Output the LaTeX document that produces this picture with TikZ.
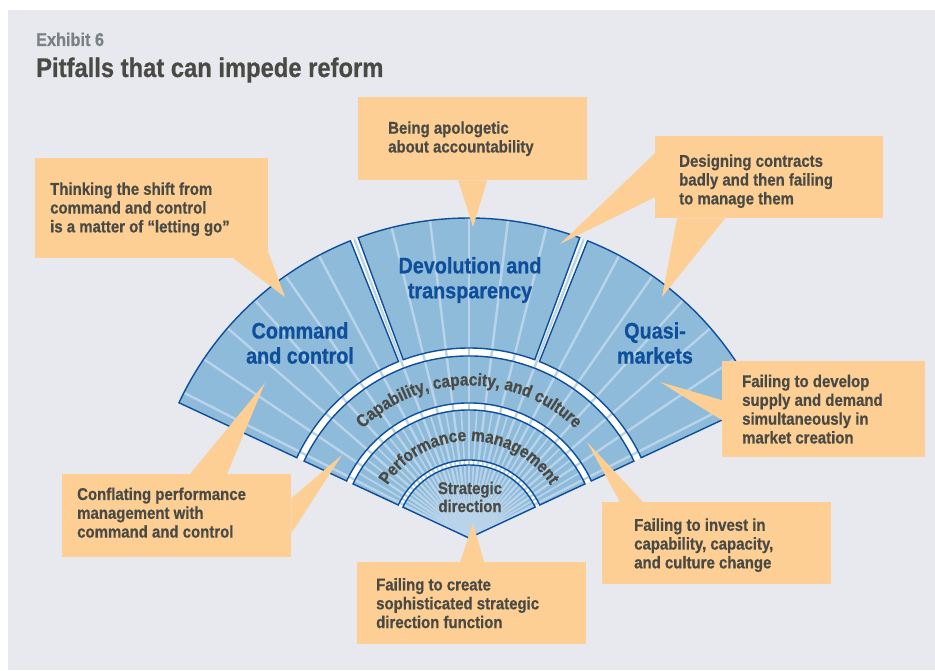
\documentclass[tikz,border=0pt]{standalone}
\usepackage{fontspec}
\setmainfont{Liberation Sans}[FakeStretch=0.88, BoldFeatures={FakeBold=0.6}]
\usepackage{tikz}
\usetikzlibrary{calc}
\usetikzlibrary{decorations.text}

\definecolor{bggray}{HTML}{E8E9EE}
\definecolor{peach}{HTML}{FDCF94}
\definecolor{fanblue}{HTML}{8EBBD9}
\definecolor{raycol}{HTML}{B9D4EA}
\definecolor{navy}{HTML}{0E4E9A}
\definecolor{txtgray}{HTML}{4A4A45}
\definecolor{exgray}{HTML}{7B8183}

\newcommand\ringfont{\fontsize{17.5}{17.5}\selectfont\bfseries\color{txtgray}}

\tikzset{
  bandline/.style={draw=navy, line width=1.4pt},
  ray/.style={raycol, line width=2.4pt},
  callout/.style={fill=peach, inner sep=0pt, anchor=north west},
  callout text/.style={anchor=west, align=left, inner sep=0pt, text=txtgray, font=\fontsize{17}{18.8}\selectfont\bfseries},
  fanlabel/.style={align=center, inner sep=0pt, text=navy, font=\fontsize{22.5}{25}\selectfont\bfseries},
  ringlabel/.style={align=center, inner sep=0pt, text=txtgray, font=\fontsize{17}{18}\selectfont\bfseries},
}

\begin{document}
\begin{tikzpicture}[x=1pt,y=1pt]
\useasboundingbox (0,0) rectangle (935,670);
\fill[white] (0,0) rectangle (935,670);
\fill[bggray] (8,0) rectangle (935,660);

\node[anchor=base west, inner sep=0pt, text=exgray, font=\fontsize{18.5}{20}\selectfont\bfseries] (exhibit) at (36,624) {Exhibit 6};
\node[anchor=base west, inner sep=0pt, text=txtgray, font=\fontsize{27}{30}\selectfont\bfseries] (title) at (36,593) {Pitfalls that can impede reform};

\begin{scope}[shift={(469,132)}]
\fill[white] (0,0) -- (25:320) arc[start angle=25, end angle=155, radius=320] -- cycle;
\fill[fanblue] (0,0) -- (25:73) arc[start angle=25, end angle=155, radius=73] -- cycle;
\foreach \ri/\ro/\aa/\ab in {78/128/25/155, 135/182/25/155, 190/320/25/68.25, 190/320/69.75/110.25, 190/320/111.75/155}
  \fill[fanblue] (\aa:\ri) -- (\aa:\ro) arc[start angle=\aa, end angle=\ab, radius=\ro] -- (\ab:\ri) arc[start angle=\ab, end angle=\aa, radius=\ri] -- cycle;

\foreach \a in {27,34,...,153} \draw[ray] (0,0) -- (\a:320);
\foreach \a in {30.5,37.5,...,149.5} \draw[ray, line width=1.6pt] (0,0) -- (\a:128);

\draw[bandline] (0,0) -- (25:73) arc[start angle=25, end angle=155, radius=73] -- cycle;
\foreach \ri/\ro/\aa/\ab in {78/128/25/155, 135/182/25/155, 190/320/25/68.25, 190/320/69.75/110.25, 190/320/111.75/155}
  \draw[bandline] (\aa:\ri) -- (\aa:\ro) arc[start angle=\aa, end angle=\ab, radius=\ro] -- (\ab:\ri) arc[start angle=\ab, end angle=\aa, radius=\ri] -- cycle;

\path[decorate, decoration={text along path, text align=center, text={|\ringfont|Capability, capacity, and culture}}] (160:152.5) arc[start angle=160, end angle=20, radius=152.5];
\path[decorate, decoration={text along path, text align=center, text={|\ringfont|Performance management}}] (160:97) arc[start angle=160, end angle=20, radius=97];
\end{scope}

\node[fanlabel] (command) at (300,327) {Command\\and control};
\node[fanlabel] (devolution) at (470,390) {Devolution and\\transparency};
\node[fanlabel] (quasi) at (655,327) {Quasi-\\markets};
\node[ringlabel] (strategic) at (470,173) {Strategic\\direction};

\node[callout, minimum width=233pt, minimum height=100pt] (boxA) at (35,512) {};
\node[callout, minimum width=229pt, minimum height=83pt] (boxB) at (358,573) {};
\node[callout, minimum width=228pt, minimum height=82pt] (boxC) at (655,534) {};
\node[callout, minimum width=203pt, minimum height=96pt] (boxD) at (722,309) {};
\node[callout, minimum width=229pt, minimum height=82pt] (boxE) at (602,168) {};
\node[callout, minimum width=229pt, minimum height=82pt] (boxF) at (357,108) {};
\node[callout, minimum width=229pt, minimum height=83pt] (boxG) at (62,196) {};

\coordinate (tipA) at (285,373);
\coordinate (tipB) at (473,443);
\coordinate (tipC) at (560,426);
\coordinate (tipCm) at (662,373);
\coordinate (tipD) at (660,288);
\coordinate (tipE) at (587,228);
\coordinate (tipF) at (473,147);
\coordinate (tipG) at (265,287);
\coordinate (tipGc) at (342,215);

\fill[peach] ([xshift=-35pt]boxA.south east) -- (tipA) -- ([yshift=6pt]boxA.south east) -- cycle;
\fill[peach] ([xshift=-14.5pt]boxB.south) -- (tipB) -- ([xshift=14.5pt]boxB.south) -- cycle;
\fill[peach] ([yshift=24pt]boxC.west) -- (tipC) -- ([yshift=-20pt]boxC.west) -- cycle;
\fill[peach] ([xshift=22pt]boxC.south west) -- (tipCm) -- ([xshift=70pt]boxC.south west) -- cycle;
\fill[peach] ([yshift=9pt]boxD.west) -- (tipD) -- ([yshift=-11pt]boxD.west) -- cycle;
\fill[peach] ([xshift=18pt]boxE.north west) -- (tipE) -- ([xshift=41pt]boxE.north west) -- cycle;
\fill[peach] ([xshift=-11.5pt]boxF.north) -- (tipF) -- ([xshift=12.5pt]boxF.north) -- cycle;
\fill[peach] ([xshift=128pt]boxG.north west) -- (tipG) -- ([xshift=165pt]boxG.north west) -- cycle;
\fill[peach] ([yshift=17.5pt]boxG.east) -- (tipGc) -- ([yshift=-17.5pt]boxG.east) -- cycle;

\node[callout text] (textA) at ([xshift=15pt,yshift=-1pt]boxA.west) {Thinking the shift from\\command and control\\is a matter of “letting go”};
\node[callout text] (textB) at ([xshift=30pt]boxB.west) {Being apologetic\\about accountability};
\node[callout text] (textC) at ([xshift=24pt,yshift=-4pt]boxC.west) {Designing contracts\\badly and then failing\\to manage them};
\node[callout text] (textD) at ([xshift=20pt]boxD.west) {Failing to develop\\supply and demand\\simultaneously in\\market creation};
\node[callout text] (textE) at ([xshift=32pt,yshift=-2pt]boxE.west) {Failing to invest in\\capability, capacity,\\and culture change};
\node[callout text] (textF) at ([xshift=19pt]boxF.west) {Failing to create\\sophisticated strategic\\direction function};
\node[callout text] (textG) at ([xshift=15pt,yshift=3pt]boxG.west) {Conflating performance\\management with\\command and control};
\end{tikzpicture}
\end{document}
